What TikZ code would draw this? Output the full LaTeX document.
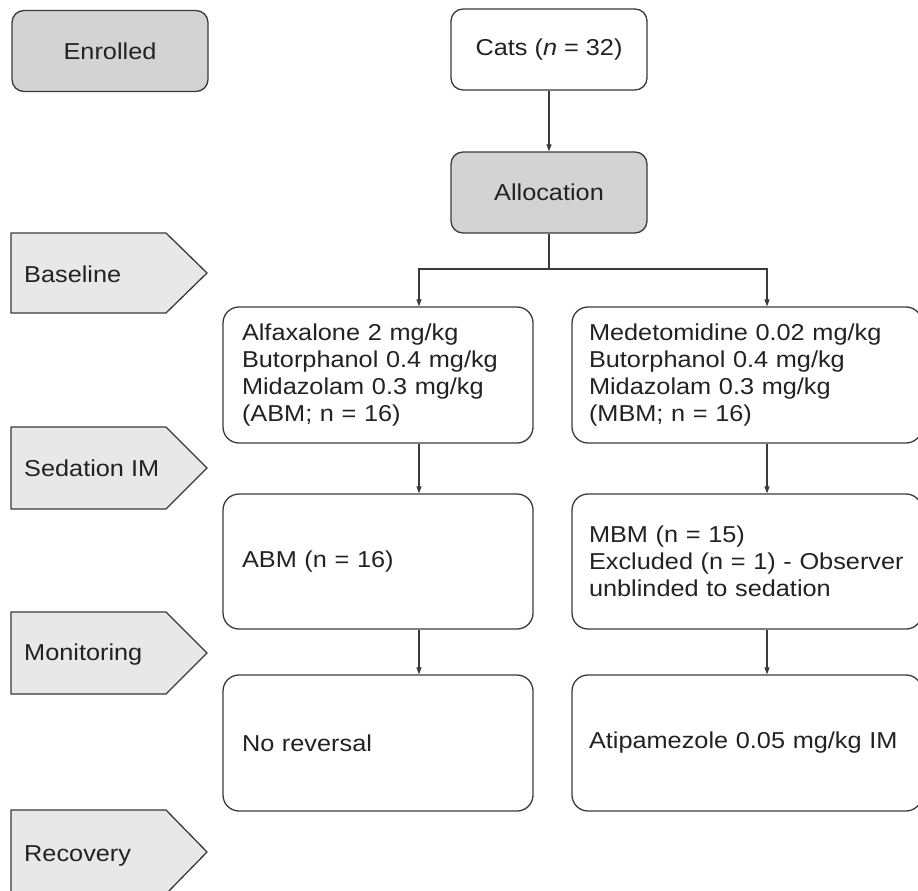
\documentclass[tikz,border=0pt]{standalone}
\usepackage{fontspec}
\setmainfont{Liberation Sans}[FakeStretch=1.1]
\usetikzlibrary{arrows.meta}
\definecolor{ln}{HTML}{3A3A3A}
\definecolor{darkfill}{HTML}{D3D3D3}
\definecolor{lightfill}{HTML}{E8E8E8}
\definecolor{txt}{HTML}{222222}
\begin{document}
\begin{tikzpicture}[x=1pt,y=-1pt,
  font=\fontsize{23}{27}\selectfont, text=txt,
  box/.style={draw=ln, line width=1.3pt, rounded corners=16pt, inner ysep=0pt, align=left},
  lbox/.style={box, text width=272pt, inner xsep=19pt},
  rbox/.style={box, text width=316pt, inner xsep=17pt},
  gbox/.style={draw=ln, line width=1.3pt, rounded corners=12pt, fill=darkfill, minimum width=196pt, minimum height=81pt},
  wbox/.style={draw=ln, line width=1.3pt, rounded corners=12pt, fill=white, minimum width=196pt, minimum height=81pt},
  phase/.style={draw=ln, line width=1.3pt, fill=lightfill},
  phasetext/.style={anchor=west, inner sep=0pt},
  conn/.style={draw=ln, line width=1.2pt},
  arr/.style={conn, -{Triangle[length=7pt,width=5pt]}}]
\useasboundingbox (0,0) rectangle (918,891);
\clip (0,0) rectangle (918,891);

% phase labels
\node[gbox] (enr) at (110,51) {Enrolled};
\draw[phase] (11,233) -- (166,233) -- (207,273) -- (166,313) -- (11,313) -- cycle;
\node[phasetext] (base) at (24,274) {Baseline};
\draw[phase] (11,427) -- (166,427) -- (207,468) -- (166,509) -- (11,509) -- cycle;
\node[phasetext] (sed) at (24,468) {Sedation IM};
\draw[phase] (11,612) -- (166,612) -- (207,653) -- (166,694) -- (11,694) -- cycle;
\node[phasetext] (mon) at (24,655) {Monitoring};
\draw[phase] (11,810) -- (166,810) -- (207,852) -- (166,894) -- (11,894) -- cycle;
\node[phasetext] (rec) at (24,856) {Recovery};

% flow
\node[wbox] (cats) at (549,49.5) {Cats (\textit{n} = 32)};
\node[gbox] (alloc) at (549,192.5) {Allocation};

\node[lbox, minimum height=136pt] (a1) at (378,375) {Alfaxalone 2 mg/kg\\Butorphanol 0.4 mg/kg\\Midazolam 0.3 mg/kg\\(ABM; n = 16)};
\node[rbox, minimum height=136pt] (b1) at (747,375) {Medetomidine 0.02 mg/kg\\Butorphanol 0.4 mg/kg\\Midazolam 0.3 mg/kg\\(MBM; n = 16)};
\node[lbox, minimum height=135pt] (a2) at (378,561.5) {ABM (n = 16)};
\node[rbox, minimum height=135pt] (b2) at (747,561.5) {MBM (n = 15)\\\mbox{Excluded (n = 1) - Observer}\\unblinded to sedation};
\node[lbox, minimum height=136pt] (a3) at (378,743) {No reversal};
\node[rbox, minimum height=136pt] (b3) at (747,743) {Atipamezole 0.05 mg/kg IM};

\coordinate (lx) at (419,0);
\coordinate (rx) at (767,0);
\coordinate (split) at (549,269);

\draw[arr] (cats) -- (alloc);
\draw[conn] (alloc) -- (split);
\draw[arr] (split) -| (a1.north -| lx);
\draw[arr] (split) -| (b1.north -| rx);
\draw[arr] (a1.south -| lx) -- (a2.north -| lx);
\draw[arr] (b1.south -| rx) -- (b2.north -| rx);
\draw[arr] (a2.south -| lx) -- (a3.north -| lx);
\draw[arr] (b2.south -| rx) -- (b3.north -| rx);
\end{tikzpicture}
\end{document}
